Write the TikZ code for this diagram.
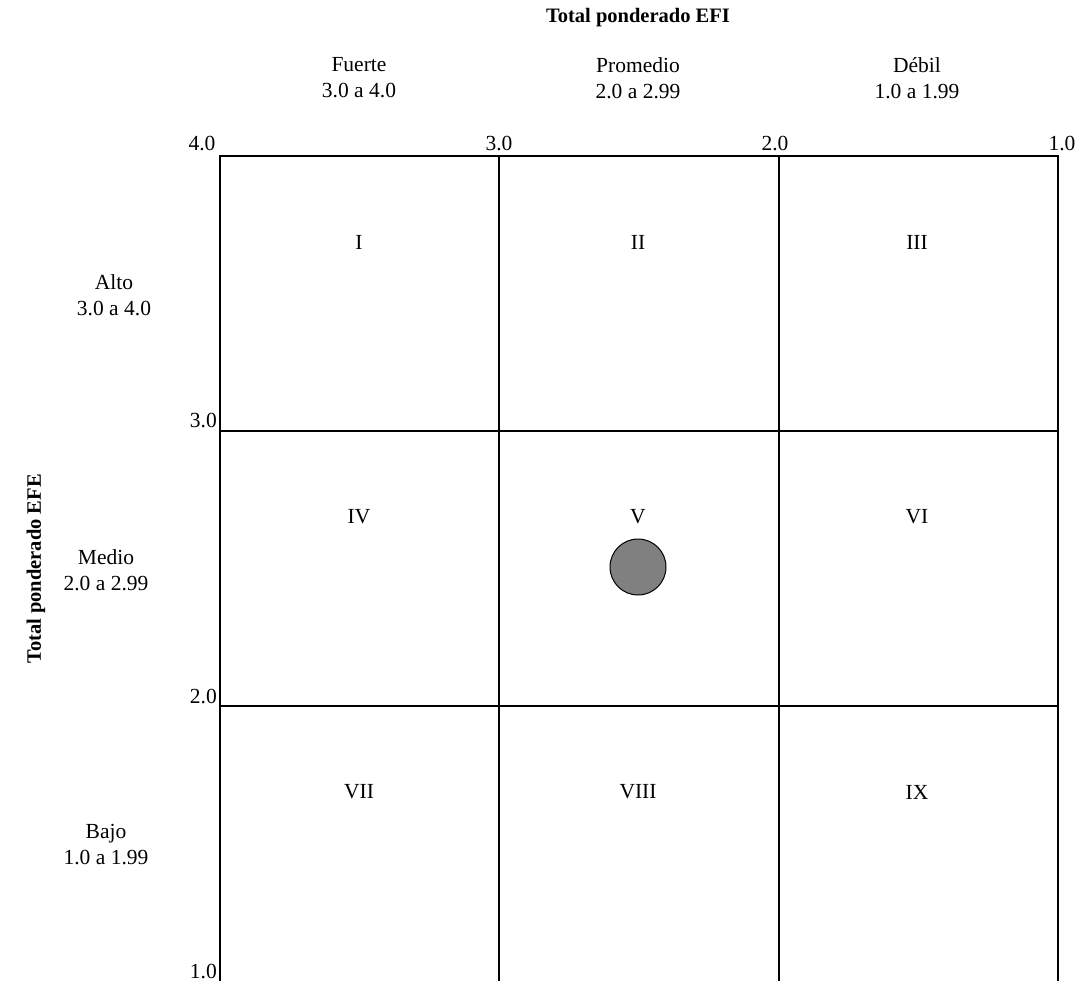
\documentclass[tikz,border=0pt]{standalone}
\usepackage{fontspec}
\setmainfont{Liberation Serif}
\begin{document}
\begin{tikzpicture}[x=1pt,y=-1pt,
  lbl/.style={font=\fontsize{21.5}{26}\selectfont,align=center,inner sep=0pt},
  ttl/.style={font=\fontsize{20.5}{24}\selectfont\bfseries,inner sep=0pt},
  gridline/.style={line width=1.1pt,black},
  dot/.style={circle,draw=black,line width=1pt,fill={rgb,255:red,128;green,128;blue,128},minimum size=56pt,inner sep=0pt}]
\useasboundingbox (0,0) rectangle (1079,981);
% grid
\coordinate (tl) at (220,156);
\coordinate (tr) at (1058,156);
\coordinate (bl) at (220,981);
\coordinate (br) at (1058,981);
\draw[gridline] (bl) -- (tl) -- (tr) -- (br);
\draw[gridline] (499,156) -- (499,981);
\draw[gridline] (779,156) -- (779,981);
\draw[gridline] (220,431) -- (1058,431);
\draw[gridline] (220,706) -- (1058,706);
% titles
\node[ttl] (efi) at (638,18) {Total ponderado EFI};
\node[ttl,rotate=90] (efe) at (36,569) {Total ponderado EFE};
% column headings
\node[lbl] (c1) at (359,78) {Fuerte\\3.0 a 4.0};
\node[lbl] (c2) at (638,78) {Promedio\\2.0 a 2.99};
\node[lbl] (c3) at (917,78) {Débil\\1.0 a 1.99};
% row headings
\node[lbl] (r1) at (114,295) {Alto\\3.0 a 4.0};
\node[lbl] (r2) at (106,570) {Medio\\2.0 a 2.99};
\node[lbl] (r3) at (106,845) {Bajo\\1.0 a 1.99};
% axis ticks
\node[lbl] (x4) at (202,144) {4.0};
\node[lbl] (x3) at (499,144) {3.0};
\node[lbl] (x2) at (775,144) {2.0};
\node[lbl] (x1) at (1062,144) {1.0};
\node[lbl,anchor=east] (y3) at (217,421) {3.0};
\node[lbl,anchor=east] (y2) at (217,696) {2.0};
\node[lbl,anchor=east] (y1) at (217,971) {1.0};
% cells
\node[lbl] (q1) at (359,242) {I};
\node[lbl] (q2) at (638,242) {II};
\node[lbl] (q3) at (917,242) {III};
\node[lbl] (q4) at (359,517) {IV};
\node[lbl] (q5) at (638,517) {V};
\node[lbl] (q6) at (917,517) {VI};
\node[lbl] (q7) at (359,792) {VII};
\node[lbl] (q8) at (638,792) {VIII};
\node[lbl] (q9) at (917,792) {IX};
\node[dot] (pos) at (638,567) {};
\end{tikzpicture}
\end{document}
